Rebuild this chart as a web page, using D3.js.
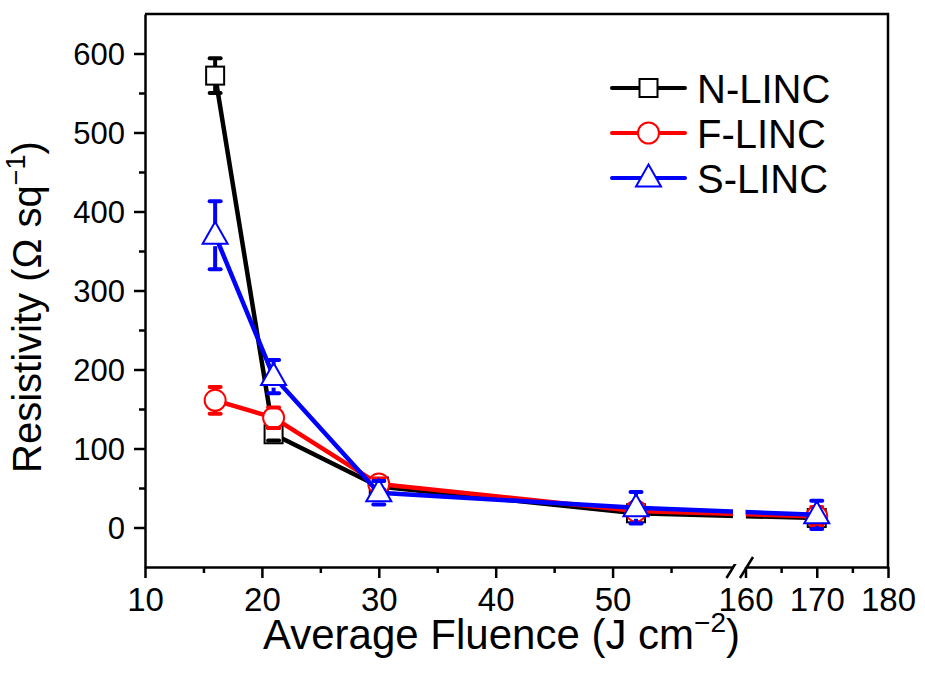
<!DOCTYPE html>
<html lang="en">
<head>
<meta charset="utf-8">
<title>Resistivity vs Average Fluence</title>
<script src="https://d3js.org/d3.v7.min.js"></script>
<style>
  body { margin: 0; background: #fff; }
  svg text { font-family: "Liberation Sans", Arial, sans-serif; fill: #000; }
  .axis path, .axis line { stroke: #000; stroke-width: 2.5; }
  .frame { stroke: #000; stroke-width: 2.5; fill: none; }
</style>
</head>
<body>
<svg width="925" height="676"></svg>
<script>
// ---- data ----
var fluence = [16, 21, 30, 52, 170];

var nLinc    = [572, 118, 52, 18, 12];
var nLincErr = [22, 8, 4, 3, 3];
var fLinc    = [161, 139, 55, 21, 14];
var fLincErr = [17, 13, 7, 5, 12];
var sLinc    = [370, 191, 44, 25, 16];
var sLincErr = [43, 21, 15, 20, 18];

var seriesNames  = ["N-LINC", "F-LINC", "S-LINC"];
var seriesColors = ["#000000", "#ff0000", "#0000ff"];
var seriesShapes = ["square", "circle", "triangle"];

var yTicks = [0, 100, 200, 300, 400, 500, 600];
var yMinor = [50, 150, 250, 350, 450, 550];
var xTicksLeft = [10, 20, 30, 40, 50];
var xMinorLeft = [15, 25, 35, 45, 55];
var xTicksRight = [160, 170, 180];
var xMinorRight = [165, 175];

var series = [
  {name: seriesNames[0], color: seriesColors[0], shape: seriesShapes[0], y: nLinc, err: nLincErr},
  {name: seriesNames[1], color: seriesColors[1], shape: seriesShapes[1], y: fLinc, err: fLincErr},
  {name: seriesNames[2], color: seriesColors[2], shape: seriesShapes[2], y: sLinc, err: sLincErr}
];

// ---- layout ----
var mLeft = 145, mTop = 14, mRight = 888, mBottom = 567;
var breakL = 733, breakR = 745.5;

var svg = d3.select("svg");

// broken x axis: two linear pieces
var xL = d3.scaleLinear().domain([10, 60.3]).range([mLeft, breakL]);
var xR = d3.scaleLinear().domain([160, 180]).range([breakR, mRight]);
function xPos(v) { return v < 100 ? xL(v) : xR(v); }

var y = d3.scaleLinear().domain([-50, 650]).range([mBottom, mTop]);

// ---- axes ----
var gy = svg.append("g").attr("class", "axis")
  .attr("transform", "translate(" + mLeft + ",0)")
  .call(d3.axisLeft(y).tickValues(yTicks).tickSize(11).tickSizeOuter(0).tickPadding(9));
gy.selectAll("text").style("font-size", "31px").attr("dy", "0.34em");

svg.append("g").attr("class", "axis")
  .attr("transform", "translate(" + mLeft + ",0)")
  .call(d3.axisLeft(y).tickValues(yMinor).tickSize(6).tickSizeOuter(0).tickFormat(""))
  .select(".domain").remove();

var gxl = svg.append("g").attr("class", "axis")
  .attr("transform", "translate(0," + mBottom + ")")
  .call(d3.axisBottom(xL).tickValues(xTicksLeft).tickSize(11).tickSizeOuter(0).tickPadding(10));
gxl.selectAll("text").style("font-size", "33px");

svg.append("g").attr("class", "axis")
  .attr("transform", "translate(0," + mBottom + ")")
  .call(d3.axisBottom(xL).tickValues(xMinorLeft).tickSize(6).tickSizeOuter(0).tickFormat(""))
  .select(".domain").remove();

var gxr = svg.append("g").attr("class", "axis")
  .attr("transform", "translate(0," + mBottom + ")")
  .call(d3.axisBottom(xR).tickValues(xTicksRight).tickSize(11).tickSizeOuter(0).tickPadding(10));
gxr.selectAll("text").style("font-size", "33px");

svg.append("g").attr("class", "axis")
  .attr("transform", "translate(0," + mBottom + ")")
  .call(d3.axisBottom(xR).tickValues(xMinorRight).tickSize(6).tickSizeOuter(0).tickFormat(""))
  .select(".domain").remove();

// frame top and right
svg.append("path").attr("class", "frame")
  .attr("d", "M" + mLeft + "," + mTop + "H" + mRight + "V" + mBottom);

// break marks
[breakL, breakR + 1].forEach(function(bx) {
  svg.append("line")
    .attr("x1", bx - 6.5).attr("y1", mBottom + 11)
    .attr("x2", bx + 6.5).attr("y2", mBottom - 10)
    .attr("stroke", "#000").attr("stroke-width", 2.5);
});

// ---- markers ----
function drawMarker(g, shape, color, cx, cy) {
  if (shape === "square") {
    g.append("rect").attr("x", cx - 9).attr("y", cy - 9).attr("width", 18).attr("height", 18)
      .attr("fill", "#fff").attr("stroke", color).attr("stroke-width", 2);
  } else if (shape === "circle") {
    g.append("circle").attr("cx", cx).attr("cy", cy).attr("r", 10.5)
      .attr("fill", "#fff").attr("stroke", color).attr("stroke-width", 2);
  } else {
    g.append("path")
      .attr("d", "M" + cx + "," + (cy - 13.5) + "L" + (cx + 12.5) + "," + (cy + 8.5) + "L" + (cx - 12.5) + "," + (cy + 8.5) + "Z")
      .attr("fill", "#fff").attr("stroke", color).attr("stroke-width", 2);
  }
}
var markerHalf = {square: 9, circle: 10.5, triangle: 11};

var plot = svg.append("g");
var line = d3.line().x(function(d) { return xPos(d[0]); }).y(function(d) { return y(d[1]); });

series.forEach(function(s) {
  var g = plot.append("g");
  var pts = fluence.map(function(f, i) { return [f, s.y[i], s.err[i]]; });
  g.append("path").datum(pts).attr("d", line)
    .attr("fill", "none").attr("stroke", s.color).attr("stroke-width", 4.5)
    .attr("stroke-linejoin", "round");

  // gap in the lines across the axis break
  g.append("rect")
    .attr("x", breakL).attr("width", breakR - breakL)
    .attr("y", mTop + 3).attr("height", mBottom - mTop - 6)
    .attr("fill", "#fff");

  pts.forEach(function(p) {
    drawMarker(g, s.shape, s.color, xPos(p[0]), y(p[1]));
  });

  // error bars, with a gap to the symbol
  pts.forEach(function(p) {
    var cx = xPos(p[0]), cy = y(p[1]);
    var yt = y(p[1] + p[2]), yb = y(p[1] - p[2]);
    var h = markerHalf[s.shape];
    if (cy - yt > h) {
      g.append("line").attr("x1", cx).attr("x2", cx).attr("y1", yt).attr("y2", cy - h)
        .attr("stroke", s.color).attr("stroke-width", 4);
    }
    if (yb - cy > h) {
      g.append("line").attr("x1", cx).attr("x2", cx).attr("y1", cy + h).attr("y2", yb)
        .attr("stroke", s.color).attr("stroke-width", 4);
    }
    [yt, yb].forEach(function(yy) {
      g.append("line").attr("x1", cx - 5.5).attr("x2", cx + 5.5).attr("y1", yy).attr("y2", yy)
        .attr("stroke", s.color).attr("stroke-width", 4).attr("stroke-linecap", "round");
    });
  });
});

// ---- legend ----
var legend = svg.append("g");
series.forEach(function(s, i) {
  var ly = 88 + i * 45;
  legend.append("line").attr("x1", 612).attr("x2", 685).attr("y1", ly).attr("y2", ly)
    .attr("stroke", s.color).attr("stroke-width", 4).attr("stroke-linecap", "round");
  drawMarker(legend, s.shape, s.color, 648.5, ly);
  legend.append("text").attr("x", 697).attr("y", ly + 14.5)
    .style("font-size", "40px").text(s.name);
});

// ---- axis titles ----
var xt = svg.append("text").attr("x", 263).attr("y", 649)
  .attr("text-anchor", "start").style("font-size", "42px");
xt.append("tspan").text("Average Fluence (J cm");
xt.append("tspan").attr("dy", -17).style("font-size", "28px").text("\u22122");
xt.append("tspan").attr("dy", 17).text(")");

var yt = svg.append("text")
  .attr("transform", "translate(41,473) rotate(-90)")
  .attr("text-anchor", "start").style("font-size", "40px");
yt.append("tspan").text("Resistivity (\u03A9 sq");
yt.append("tspan").attr("dy", -16).style("font-size", "27px").text("\u22121");
yt.append("tspan").attr("dy", 16).text(")");
</script>
</body>
</html>
